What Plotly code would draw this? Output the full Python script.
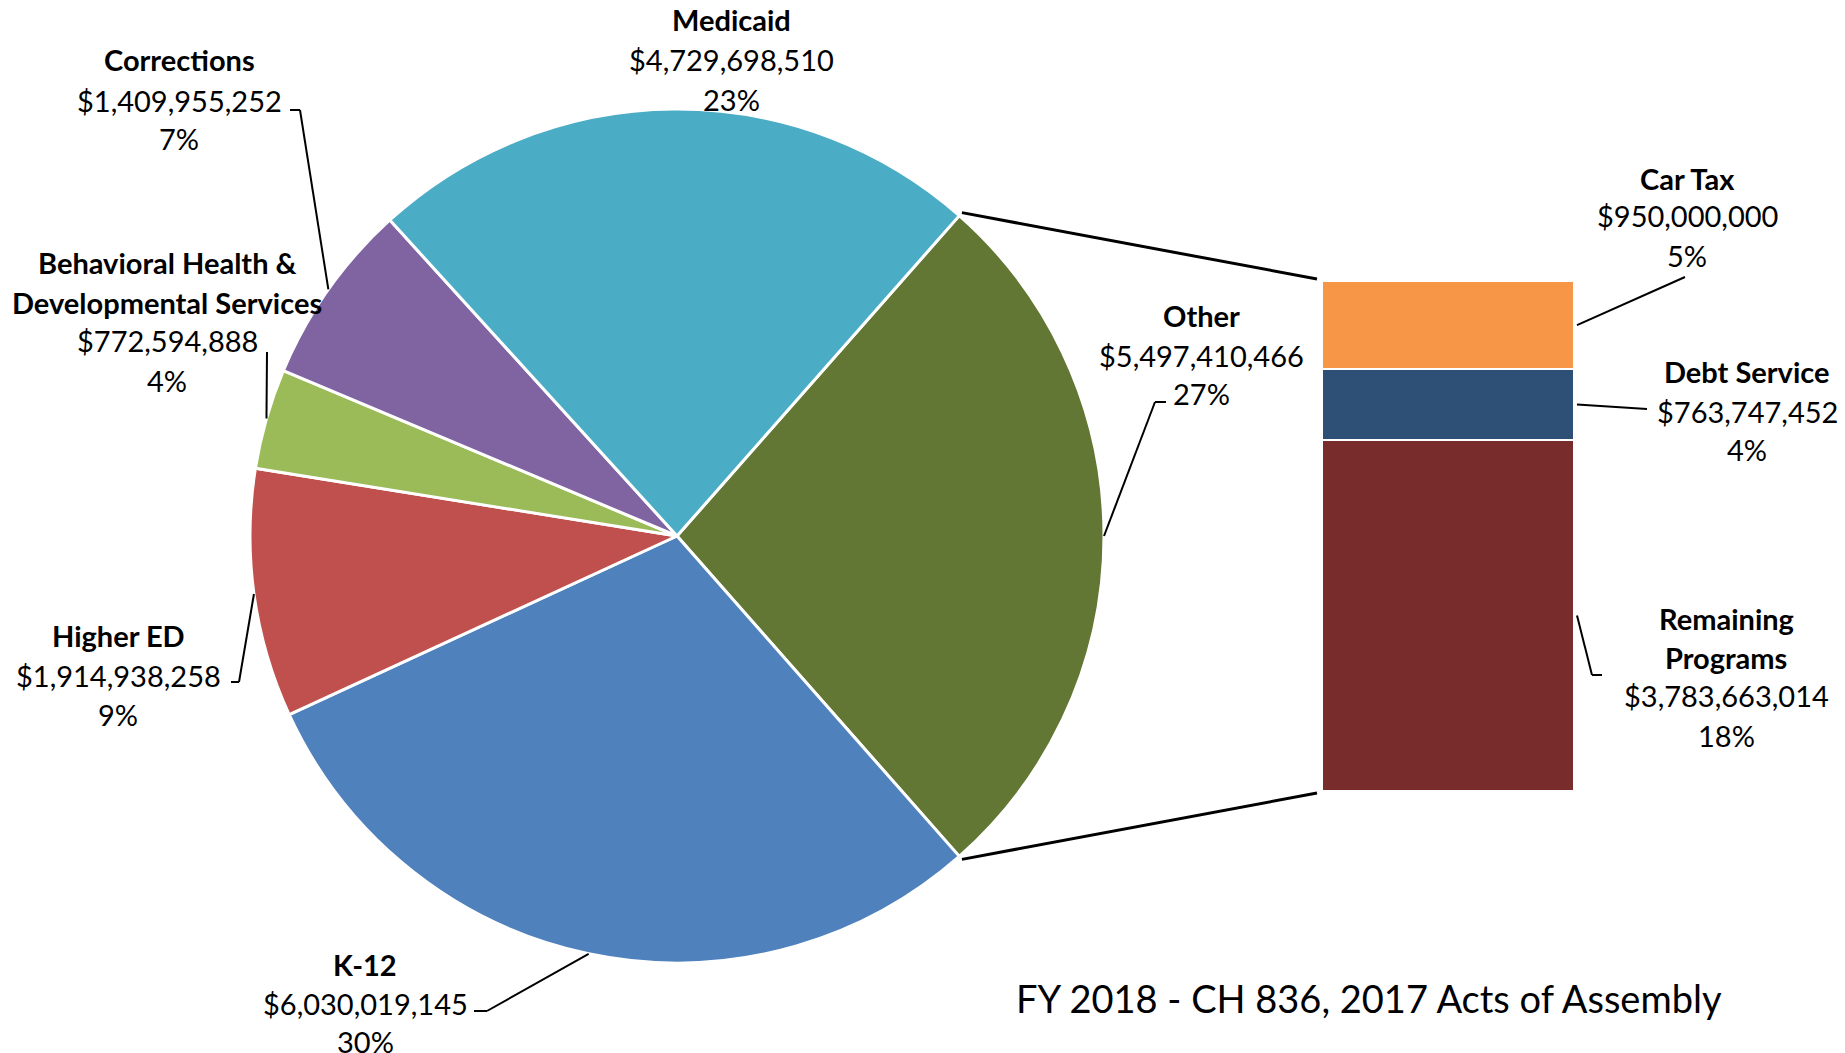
import math
import plotly.graph_objects as go

# ---------------- data ----------------
pie_labels = ["Other", "K-12", "Higher ED", "Behavioral Health & Developmental Services", "Corrections", "Medicaid"]
pie_values = [5497410466, 6030019145, 1914938258, 772594888, 1409955252, 4729698510]
pie_pcts = ["27%", "30%", "9%", "4%", "7%", "23%"]
pie_colors = ["#617733", "#4F81BD", "#C0504D", "#9BBB59", "#8064A2", "#4BACC6"]

bar_labels = ["Remaining Programs", "Debt Service", "Car Tax"]
bar_values = [3783663014, 763747452, 950000000]
bar_pcts = ["18%", "4%", "5%"]
bar_colors = ["#782C2C", "#2E4F76", "#F79646"]

title_text = "FY 2018 - CH 836, 2017 Acts of Assembly"

# ---------------- layout geometry (pixels) ----------------
W, H = 1845, 1053
CX, CY, R = 677, 536, 427
BAR_X0, BAR_X1, BAR_Y0, BAR_Y1 = 1322, 1574, 281, 791
FONT = "Lato, 'Open Sans', sans-serif"
FS = 29

def px(x):
    return x / W

def py(y):
    return 1 - y / H

total = sum(pie_values)
other_share = pie_values[0] / total * 360.0
start_angle = 90 - other_share / 2.0

# slice mid angles (clockwise from 12 o'clock)
mids = []
edges = [start_angle]
acc = start_angle
for v in pie_values:
    span = v / total * 360.0
    mids.append(acc + span / 2)
    acc += span
    edges.append(acc)

def pie_point(theta, rr=R):
    t = math.radians(theta)
    return (CX + rr * math.sin(t), CY - rr * math.cos(t))

fig = go.Figure()

fig.add_trace(go.Pie(
    labels=pie_labels, values=pie_values, sort=False, direction="clockwise",
    rotation=start_angle, textinfo="none", hoverinfo="label+value+percent",
    marker=dict(colors=pie_colors, line=dict(color="white", width=3)),
    domain=dict(x=[px(CX - R), px(CX + R)], y=[py(CY + R), py(CY - R)]),
    showlegend=False,
))

for lab, val, col in zip(bar_labels, bar_values, bar_colors):
    fig.add_trace(go.Bar(
        x=["Other"], y=[val], name=lab, width=1,
        marker=dict(color=col, line=dict(color="white", width=2)),
        showlegend=False, xaxis="x", yaxis="y",
    ))

other_total = sum(bar_values)

fig.update_layout(
    width=W, height=H, margin=dict(l=0, r=0, t=0, b=0),
    paper_bgcolor="white", plot_bgcolor="rgba(0,0,0,0)",
    barmode="stack", bargap=0,
    xaxis=dict(domain=[px(BAR_X0), px(BAR_X1)], range=[-0.5, 0.5], visible=False, fixedrange=True),
    yaxis=dict(domain=[py(BAR_Y1), py(BAR_Y0)], range=[0, other_total], visible=False, fixedrange=True),
)

def bar_y_pixel(v):
    return BAR_Y1 - v / other_total * (BAR_Y1 - BAR_Y0)

shapes = []
def line(points, width=2):
    for (x0, y0), (x1, y1) in zip(points[:-1], points[1:]):
        shapes.append(dict(type="line", xref="paper", yref="paper",
                           x0=px(x0), y0=py(y0), x1=px(x1), y1=py(y1),
                           line=dict(color="black", width=width)))

# connectors pie -> bar
p_top = pie_point(edges[0], R + 4)
p_bot = pie_point(edges[1], R + 4)
line([p_top, (BAR_X0 - 5, BAR_Y0 - 2)], 3)
line([p_bot, (BAR_X0 - 5, BAR_Y1 + 2)], 3)

# pie leader lines (label side points are layout positions)
pie_leaders = {
    "Corrections": [(290, 110), (300, 110)],
    "Behavioral Health & Developmental Services": [(267, 352)],
    "Higher ED": [(231, 682), (239, 682)],
    "K-12": [(474, 1011), (487, 1011)],
    "Other": [(1166, 402), (1155, 402)],
}
for i, lab in enumerate(pie_labels):
    if lab in pie_leaders:
        pts = pie_leaders[lab] + [pie_point(mids[i])]
        line(pts, 2)

# bar leader lines
cum = 0
bar_mid = {}
for lab, v in zip(bar_labels, bar_values):
    bar_mid[lab] = bar_y_pixel(cum + v / 2)
    cum += v
bar_leaders = {
    "Car Tax": [(1685, 277)],
    "Debt Service": [(1647, 409)],
    "Remaining Programs": [(1592, 675), (1602, 675)],
}
for lab in bar_labels:
    line([(BAR_X1 + 3, bar_mid[lab])] + bar_leaders[lab], 2)

fig.update_layout(shapes=shapes)

# ---------------- labels ----------------
def fmt(v):
    return "${:,}".format(v)

label_pos = {
    "Medicaid": (731, [20, 60, 99], ["Medicaid"]),
    "Corrections": (179, [60, 100, 139], ["Corrections"]),
    "Behavioral Health & Developmental Services": (167, [262, 302, 341, 380], ["Behavioral Health &", "Developmental Services"]),
    "Higher ED": (118, [635, 675, 714], ["Higher ED"]),
    "K-12": (365, [964, 1003, 1041], ["K-12"]),
    "Other": (1201, [315, 355, 394], ["Other"]),
    "Car Tax": (1687, [178, 216, 255], ["Car Tax"]),
    "Debt Service": (1747, [372, 411, 449], ["Debt Service"]),
    "Remaining Programs": (1726, [618, 657, 695, 735], ["Remaining", "Programs"]),
}

values_map = dict(zip(pie_labels, zip(pie_values, pie_pcts)))
values_map.update(dict(zip(bar_labels, zip(bar_values, bar_pcts))))

annotations = []
for lab, (cx, ys, heads) in label_pos.items():
    v, pct = values_map[lab]
    lines = [("<b>%s</b>" % h) for h in heads] + [fmt(v), pct]
    for txt, yy in zip(lines, ys):
        annotations.append(dict(
            x=px(cx), y=py(yy), xref="paper", yref="paper", text=txt,
            showarrow=False, xanchor="center", yanchor="middle",
            font=dict(family=FONT, size=FS, color="black"),
        ))

annotations.append(dict(
    x=px(1369), y=py(998), xref="paper", yref="paper", text=title_text,
    showarrow=False, xanchor="center", yanchor="middle",
    font=dict(family=FONT, size=38, color="black"),
))
fig.update_layout(annotations=annotations)

fig.write_html(
    "out.html",
    config={"displayModeBar": False},
    post_script="document.body.style.margin='0';document.body.style.overflow='hidden';",
)
